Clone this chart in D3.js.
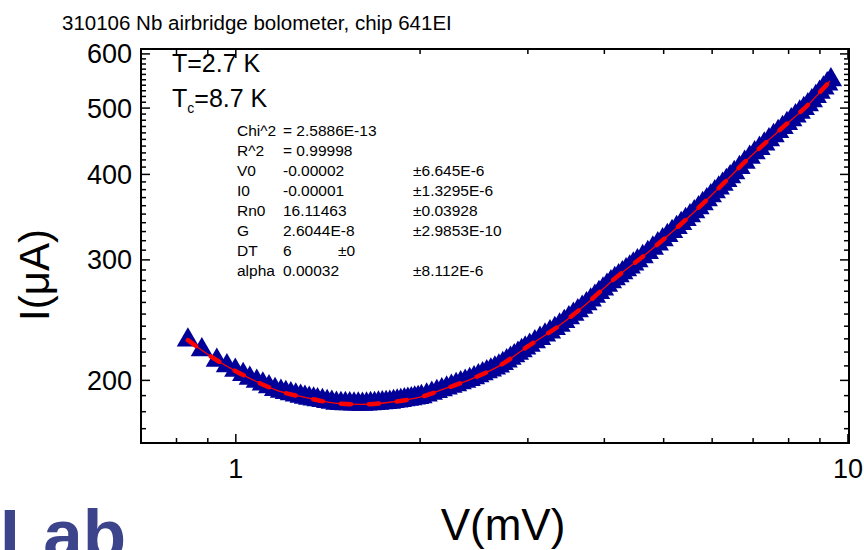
<!DOCTYPE html>
<meta charset='utf-8'>
<style>
  body { margin: 0; background: #fff; }
  text { font-family: 'Liberation Sans', Arial, sans-serif; fill: #000; }
</style>
<div id='chart'></div>
<script src='https://d3js.org/d3.v7.min.js'></script>
<script>

  // measured I-V points (V in mV, I in uA)
  var dataV = [0.835, 0.880, 0.931, 0.967, 0.998, 1.028, 1.054, 1.082, 1.107, 1.133, 1.159, 1.185, 1.207, 1.230, 1.253, 1.276, 1.297, 1.318, 1.340,
    1.36, 1.385, 1.41, 1.435, 1.46, 1.485, 1.51, 1.535, 1.56, 1.585, 1.61, 1.635, 1.66, 1.685, 1.71, 1.735, 1.76, 1.785, 1.81, 1.835, 1.86, 1.885, 1.91, 1.935, 1.96, 1.985,
    2.01, 2.05, 2.09, 2.13, 2.17, 2.21, 2.25, 2.29, 2.33, 2.37, 2.41, 2.45, 2.49, 2.53, 2.57, 2.61, 2.65, 2.69, 2.73, 2.77, 2.81, 2.85, 2.89, 2.93, 2.97,
    3.02, 3.08, 3.14, 3.20, 3.26, 3.32, 3.38, 3.44, 3.50, 3.56, 3.62, 3.68, 3.74, 3.80, 3.86, 3.92, 3.98, 4.04, 4.10, 4.16, 4.22, 4.28, 4.34, 4.40, 4.46,
    4.53, 4.62, 4.71, 4.80, 4.89, 4.98, 5.07, 5.16, 5.25, 5.34, 5.43, 5.52, 5.61, 5.70, 5.79, 5.88, 5.97, 6.06, 6.15, 6.24, 6.33, 6.42,
    6.52, 6.65, 6.78, 6.91, 7.04, 7.17, 7.30, 7.43, 7.56, 7.69, 7.82, 7.95, 8.08, 8.21, 8.34, 8.47, 8.60, 8.73, 8.86, 8.99, 9.12, 9.25, 9.38];
  var dataI = [229.0, 221.7, 214.0, 210.1, 206.9, 203.9, 201.4, 199.3, 197.5, 195.7, 193.9, 192.8, 192.0, 191.2, 190.4, 189.6, 188.9, 188.3, 187.8,
    187.3, 186.8, 186.2, 185.7, 185.1, 185.0, 184.9, 184.8, 184.7, 184.6, 184.5, 184.7, 184.9, 185.0, 185.2, 185.4, 185.6, 185.8, 186.2, 186.5, 186.9, 187.3, 187.7, 188.0, 188.4, 188.8,
    189.3, 190.4, 191.5, 192.6, 193.7, 194.9, 196.0, 197.1, 198.3, 199.4, 200.6, 201.7, 203.1, 204.4, 205.8, 207.1, 208.5, 209.9, 211.6, 213.5, 215.4, 217.2, 219.1, 221.0, 222.9,
    225.1, 227.7, 230.3, 232.9, 235.4, 238.0, 240.8, 243.8, 246.8, 249.8, 252.8, 255.8, 258.8, 262.1, 265.4, 268.7, 272.0, 275.3, 278.6, 281.6, 284.4, 287.3, 290.1, 292.9, 295.7,
    299.0, 303.2, 307.5, 312.0, 316.5, 321.0, 325.5, 330.0, 334.5, 339.0, 343.5, 348.0, 352.6, 357.5, 362.4, 367.3, 372.2, 377.1, 382.0, 386.9, 391.8, 396.8,
    402.3, 409.4, 416.5, 423.7, 430.1, 436.5, 442.9, 449.2, 455.6, 462.0, 468.3, 474.5, 480.7, 486.9, 493.1, 499.3, 505.5, 512.4, 519.8, 527.3, 534.8, 542.3, 549.7];

  // fitted curve
  var fitV = [0.835, 0.931, 1.054, 1.167, 1.321, 1.462, 1.613, 1.785, 1.999, 2.18, 2.44, 2.70, 2.99, 3.35, 3.75, 4.13, 4.70, 5.58, 6.18, 6.92, 7.74, 8.67, 9.35];
  var fitI = [229, 214, 201.4, 193.4, 188.2, 185.1, 184.5, 185.8, 189, 194, 201.4, 210.2, 223.8, 239.3, 259.3, 280.2, 307, 351, 383.6, 424.2, 464.5, 508.9, 548];

  var xMajor = [1, 10];
  var xMinor = [0.8, 0.9, 2, 3, 4, 5, 6, 7, 8, 9];
  var yMajor = [200, 300, 400, 500, 600];
  var yMinor = [170, 180, 190, 210, 220, 230, 240, 250, 260, 270, 280, 290, 310, 320, 330, 340, 350, 360, 370, 380, 390,
    410, 420, 430, 440, 450, 460, 470, 480, 490, 510, 520, 530, 540, 550, 560, 570, 580, 590];

  var parNames = ['Chi^2', 'R^2', 'V0', 'I0', 'Rn0', 'G', 'DT', 'alpha'];
  var parValues = ['=  2.5886E-13', '=  0.99998', '-0.00002', '-0.00001', '16.11463', '2.6044E-8', '6', '0.00032'];
  var parErrors = ['', '', '±6.645E-6', '±1.3295E-6', '±0.03928', '±2.9853E-10', '±0', '±8.112E-6'];

  var W = 864, H = 550;
  var plot = {left: 141, right: 849, top: 49, bottom: 443};

  var svg = d3.select('#chart')
    .append('svg')
      .attr('width', W)
      .attr('height', H);

  var x = d3.scaleLog()
    .domain([0.7, 10.04])
    .range([plot.left, plot.right]);
  var y = d3.scaleLog()
    .domain([162, 610])
    .range([plot.bottom, plot.top]);

  // watermark logo, cut by the page edge as in the original
  svg.append('text')
    .attr('x', 0)
    .attr('y', 559)
    .style('font-size', '71px')
    .style('font-weight', 'bold')
    .style('fill', '#3c448c')
    .text('Lab');

  // title
  svg.append('text')
    .attr('x', 62)
    .attr('y', 30)
    .style('font-size', '20.5px')
    .text('310106 Nb airbridge bolometer, chip 641EI');

  // ticks, all pointing inwards
  var tk = svg.append('g').attr('stroke', '#000').attr('stroke-width', 1.5);
  function xTicks(vals, len) {
    vals.forEach(function (v) {
      tk.append('line').attr('x1', x(v)).attr('x2', x(v)).attr('y1', plot.bottom).attr('y2', plot.bottom - len);
      tk.append('line').attr('x1', x(v)).attr('x2', x(v)).attr('y1', plot.top).attr('y2', plot.top + len);
    });
  }
  function yTicks(vals, len) {
    vals.forEach(function (v) {
      tk.append('line').attr('y1', y(v)).attr('y2', y(v)).attr('x1', plot.left).attr('x2', plot.left + len);
      tk.append('line').attr('y1', y(v)).attr('y2', y(v)).attr('x1', plot.right).attr('x2', plot.right - len);
    });
  }
  xTicks(xMajor, 9);
  xTicks(xMinor, 5);
  yTicks(yMajor, 9);
  yTicks(yMinor, 5);

  // frame
  svg.append('rect')
    .attr('x', plot.left)
    .attr('y', plot.top)
    .attr('width', plot.right - plot.left)
    .attr('height', plot.bottom - plot.top)
    .attr('fill', 'none')
    .attr('stroke', '#000')
    .attr('stroke-width', 2);

  // tick labels
  svg.append('g').selectAll('text')
    .data(xMajor)
    .enter()
    .append('text')
      .attr('x', function (d) { return x(d); })
      .attr('y', 478)
      .attr('text-anchor', 'middle')
      .style('font-size', '27px')
      .text(function (d) { return d; });
  svg.append('g').selectAll('text')
    .data(yMajor)
    .enter()
    .append('text')
      .attr('x', 132)
      .attr('y', function (d) { return y(d) + 9.5; })
      .attr('text-anchor', 'end')
      .style('font-size', '27px')
      .text(function (d) { return d; });

  // axis titles
  svg.append('text')
    .attr('x', 503)
    .attr('y', 540)
    .attr('text-anchor', 'middle')
    .style('font-size', '44px')
    .text('V(mV)');
  svg.append('text')
    .attr('transform', 'translate(49,275) rotate(-90)')
    .attr('text-anchor', 'middle')
    .style('font-size', '42px')
    .text('I(μA)');

  // data points
  var pts = dataV.map(function (v, i) { return [v, dataI[i]]; });
  svg.append('g')
    .selectAll('path')
    .data(pts)
    .enter()
    .append('path')
      .attr('d', d3.symbol(d3.symbolTriangle).size(215))
      .attr('transform', function (d) { return 'translate(' + x(d[0]) + ',' + y(d[1]) + ')'; })
      .style('fill', '#000099');

  // fit curve
  var fit = fitV.map(function (v, i) { return [v, fitI[i]]; });
  var line = d3.line()
    .x(function (d) { return x(d[0]); })
    .y(function (d) { return y(d[1]); })
    .curve(d3.curveMonotoneX);
  svg.append('path')
    .attr('d', line(fit))
    .attr('fill', 'none')
    .attr('stroke', '#ff0000')
    .attr('stroke-width', 1.3);
  svg.append('path')
    .attr('d', line(fit))
    .attr('fill', 'none')
    .attr('stroke', '#ff0000')
    .attr('stroke-width', 4.5)
    .attr('stroke-linecap', 'round')
    .attr('stroke-dasharray', '10,18');

  // temperatures
  svg.append('text')
    .attr('x', 172)
    .attr('y', 72)
    .style('font-size', '25px')
    .text('T=2.7 K');
  var tc = svg.append('text')
    .attr('x', 172)
    .attr('y', 107)
    .style('font-size', '25px');
  tc.append('tspan').text('T');
  tc.append('tspan').attr('dy', 6).style('font-size', '14px').text('c');
  tc.append('tspan').attr('dy', -6).text('=8.7 K');

  // fit parameters
  var par = svg.append('g').style('font-size', '15.5px');
  parNames.forEach(function (n, i) {
    var yy = 136 + i * 20;
    par.append('text').attr('x', 237).attr('y', yy).text(n);
    par.append('text').attr('x', 283).attr('y', yy).text(parValues[i]);
    par.append('text').attr('x', n == 'DT' ? 338 : 413).attr('y', yy).text(parErrors[i]);
  });

</script>
